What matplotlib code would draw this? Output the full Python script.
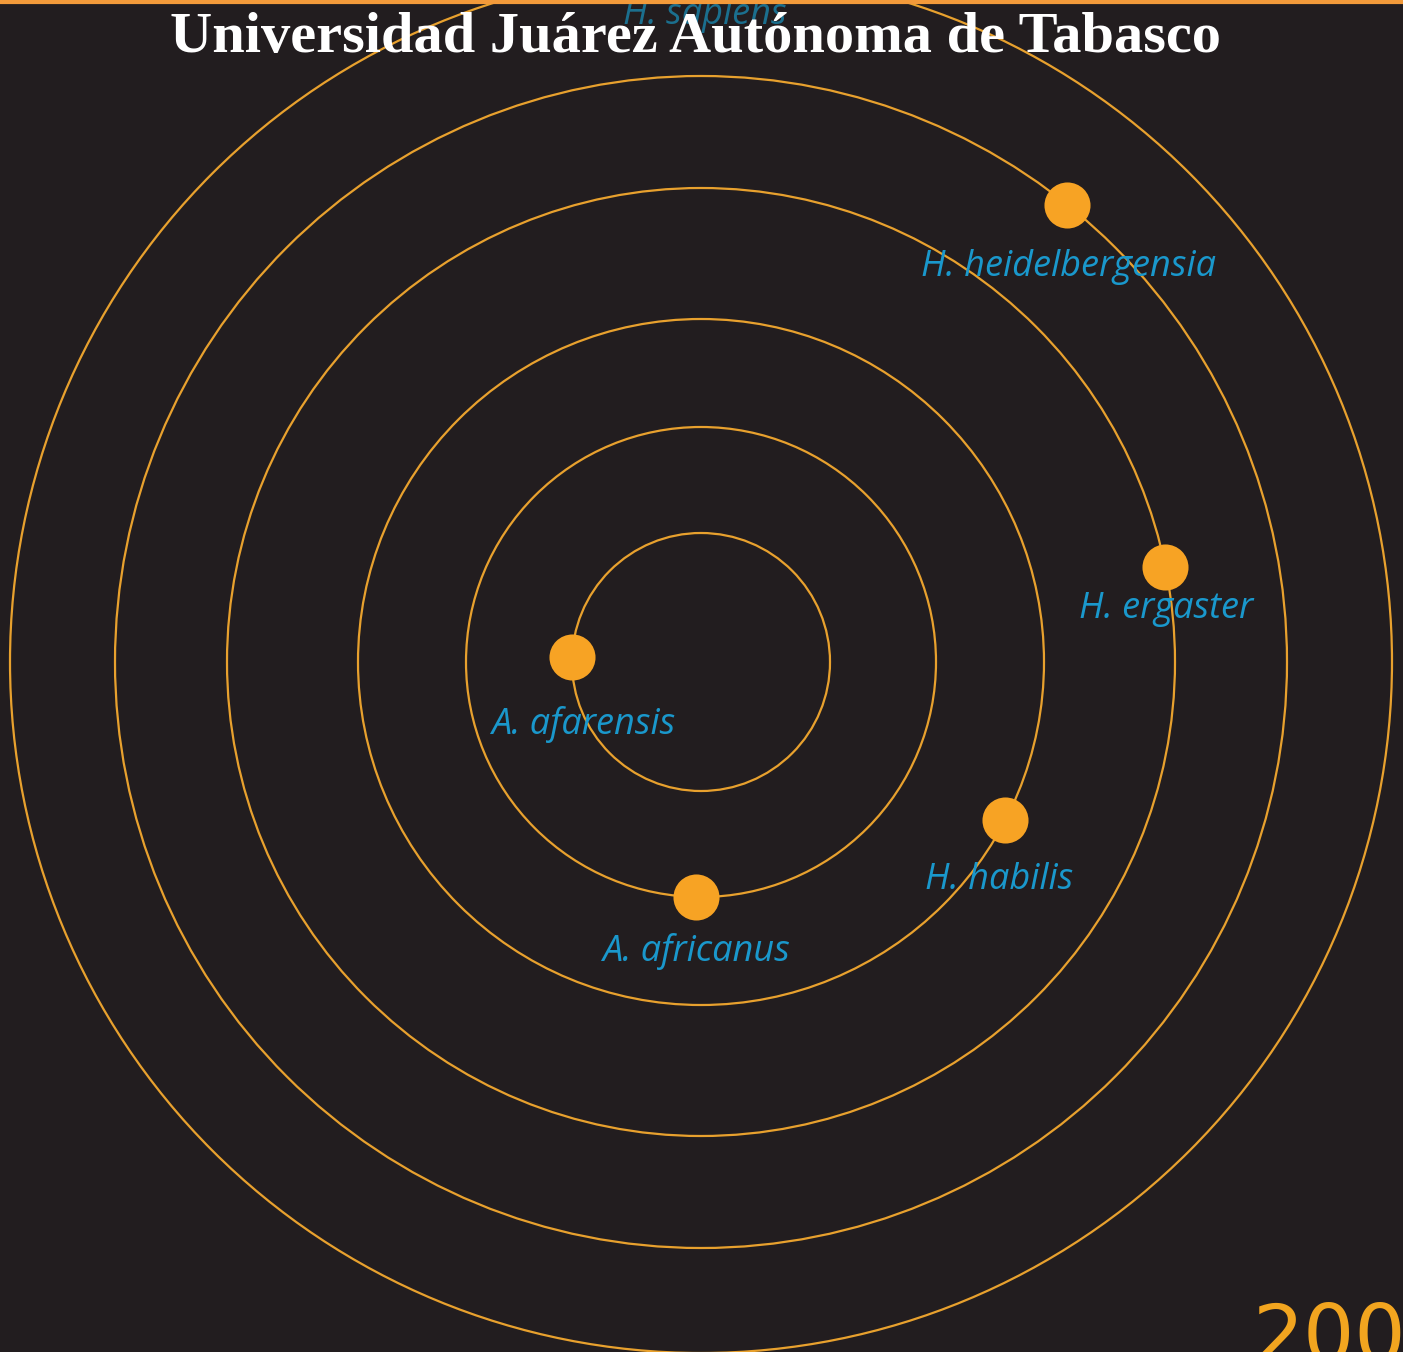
import numpy as np
import matplotlib.pyplot as plt
from matplotlib.patches import Circle

# anillos (radio en px) y especies sobre cada anillo
radios   = [129, 235, 343, 474, 586, 691]
especies = ["A. afarensis", "A. africanus", "H. habilis",
            "H. ergaster", "H. heidelbergensia", "H. sapiens"]
anillo   = [0, 1, 2, 3, 4, 5]
angulos  = [178, 268.8, 332.5, 11.5, 51.3, 90]
titulo   = "Universidad Juárez Autónoma de Tabasco"
esquina  = "200"

W, H   = 1403, 1352
cx, cy = 701, 662
fondo  = "#221d1f"
naranja = "#e8a12e"
punto  = "#f7a324"
azul   = "#1a98cc"

fig = plt.figure(figsize=(W / 100, H / 100), dpi=100, facecolor=fondo)
ax = fig.add_axes([0, 0, 1, 1])
ax.set_facecolor(fondo)
ax.set_xlim(0, W)
ax.set_ylim(H, 0)
ax.set_aspect("equal")
ax.axis("off")

for r in radios:
    ax.add_patch(Circle((cx, cy), r, fill=False, ec=naranja, lw=1.6))

# desplazamiento de la etiqueta bajo cada punto
offs = [(11, 67), (0, 55), (-6, 60), (1, 42), (1, 62), (4, 44)]
for nom, k, ang, (ox, oy) in zip(especies, anillo, angulos, offs):
    t = np.deg2rad(ang)
    x = cx + radios[k] * np.cos(t)
    y = cy - radios[k] * np.sin(t)
    ax.scatter([x], [y], s=1100, color=punto, zorder=3, lw=0)
    col = azul if nom != "H. sapiens" else "#1b6f8e"
    ax.text(x + ox, y + oy, nom, color=col, fontsize=26, family="Open Sans",
            style="italic", ha="center", va="center", zorder=4)

ax.text(695, 38, titulo, color="white", fontsize=42, family="Liberation Serif",
        weight="bold", ha="center", va="center", zorder=6)

ax.text(1252, 1362, esquina, color="#f2a51f", fontsize=58, family="DejaVu Sans",
        ha="left", va="baseline", zorder=5, clip_on=True)

# filete naranja superior
ax.plot([0, W], [1.5, 1.5], color="#f39a3a", lw=3, zorder=7)

fig.savefig("out.png", dpi=100, facecolor=fondo)
